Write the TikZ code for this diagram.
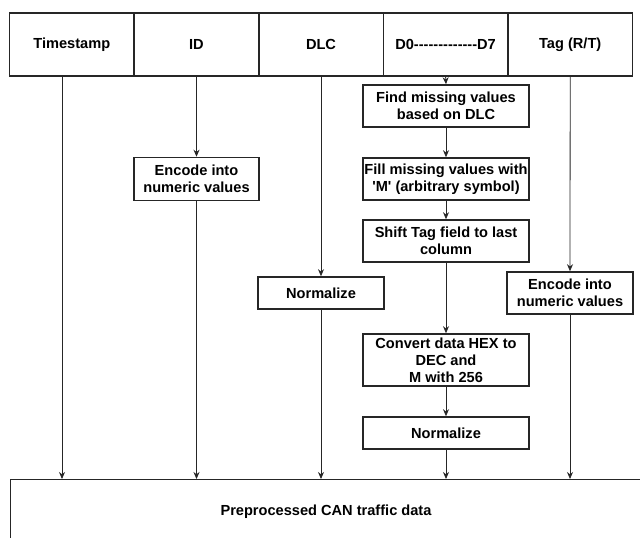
\documentclass[tikz,border=0pt]{standalone}
\usepackage{fontspec}
\setmainfont{Liberation Sans}[Ligatures=TeXOff]
\usetikzlibrary{arrows.meta}
\begin{document}
\begin{tikzpicture}[x=1pt,y=-1pt,
  font=\fontsize{14.6}{17}\selectfont\bfseries,
  hdr/.style={draw=black!85,line width=1.6pt,minimum width=124.6pt,minimum height=63pt,inner sep=0pt},
  proc/.style={draw=black!85,line width=1.6pt,inner sep=0pt,align=center},
  conn/.style={draw=black!85,line width=0.8pt,-{Stealth[length=7pt,width=6pt]}}
]
\useasboundingbox (0,0) rectangle (640,538);
% header
\node[hdr] (ts)  at (71.8,44.5)  {Timestamp};
\node[hdr] (id)  at (196.4,44.5) {ID};
\node[hdr] (dlc) at (321,44.5)   {DLC};
\node[hdr] (dd)  at (445.6,44.5) {D0-------------D7};
\node[hdr] (tag) at (570.2,44.5) {Tag (R/T)};
% process boxes
\node[proc,minimum width=166pt,minimum height=42pt] (find) at (446,106) {Find missing values\\based on DLC};
\node[proc,minimum width=125pt,minimum height=43pt] (encid) at (196.5,179) {Encode into\\numeric values};
\node[proc,minimum width=166pt,minimum height=42pt] (fill) at (446,179) {Fill missing values with\\'M' (arbitrary symbol)};
\node[proc,minimum width=166pt,minimum height=42pt] (shift) at (446,241) {Shift Tag field to last\\column};
\node[proc,minimum width=126pt,minimum height=32pt] (normdlc) at (321,293) {Normalize};
\node[proc,minimum width=126pt,minimum height=42pt] (enctag) at (570,293) {Encode into\\numeric values};
\node[proc,minimum width=166pt,minimum height=52pt] (conv) at (446,360) {Convert data HEX to\\DEC and\\M with 256};
\node[proc,minimum width=166pt,minimum height=32pt] (normd) at (446,433) {Normalize};
% output box (runs off the page)
\node[draw=black!85,line width=1pt,minimum width=632pt,minimum height=80pt,anchor=north west,inner sep=0pt] (out) at (10,479) {};
\node (outlbl) at (326,512) {Preprocessed CAN traffic data};
% coordinates on output box
\coordinate (o1) at (62,479);
\coordinate (o2) at (196.5,479);
\coordinate (o3) at (321,479);
\coordinate (o4) at (446,479);
\coordinate (o5) at (570,479);
\coordinate (t1) at (62,76);
% connectors
\draw[conn] (t1) -- (o1);
\draw[conn] (id.south) -- (encid.north);
\draw[conn] (encid.south) -- (o2);
\draw[conn] (dlc.south) -- (normdlc.north);
\draw[conn] (normdlc.south) -- (o3);
\draw[conn] (dd.south) -- (find.north);
\draw[conn] (find) -- (fill);
\draw[conn] (fill) -- (shift);
\draw[conn] (shift) -- (conv);
\draw[conn] (conv) -- (normd);
\draw[conn] (normd.south) -- (o4);
\draw[conn] (tag.south) -- (enctag.north);
\draw[conn] (enctag.south) -- (o5);
\end{tikzpicture}
\end{document}
